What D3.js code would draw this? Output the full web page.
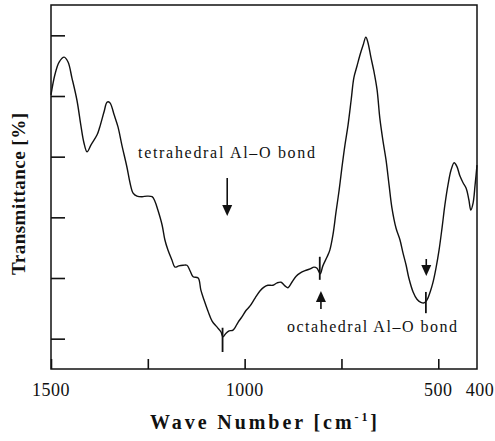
<!DOCTYPE html>
<html>
<head>
<meta charset="utf-8">
<script src="https://d3js.org/d3.v7.min.js"></script>
<style>
  body { margin: 0; background: #fff; }
  text { font-family: "Liberation Serif", "DejaVu Serif", serif; fill: #111; }
</style>
</head>
<body>
<svg id="chart"></svg>
<script>
// spectrum: wave number [cm-1] and transmittance (arbitrary %)
const waveNumber = [1500, 1490, 1479, 1466, 1456, 1446, 1433, 1423, 1415, 1407, 1397, 1381, 1374, 1363, 1355, 1348,
  1337, 1327, 1317, 1304, 1296, 1288, 1278, 1265, 1252, 1239, 1232, 1224, 1213, 1206, 1198, 1188, 1180, 1170,
  1159, 1149, 1141, 1133, 1120, 1113, 1105, 1095, 1084, 1071, 1061, 1056, 1048, 1040, 1030, 1017, 1007, 997,
  986, 973, 960, 950, 940, 927, 916, 906, 896, 888, 878, 867, 857, 844, 831, 821, 813, 805, 798, 787, 780,
  772, 764, 756, 749, 741, 733, 725, 718, 710, 702, 694, 687, 682, 674, 666, 658, 651, 643, 635, 627, 620,
  609, 599, 591, 583, 576, 565, 555, 545, 537, 529, 521, 514, 506, 498, 490, 483, 475, 467, 459, 452, 444,
  436, 428, 421, 416, 410, 405, 400];
const transmittance = [50.2, 53.5, 55.6, 56.4, 55.6, 53.0, 49.3, 45.2, 42.3, 40.8, 41.9, 43.6, 44.9, 47.4, 49.0, 48.9,
  46.9, 44.9, 41.9, 38.3, 35.7, 34.0, 33.5, 33.4, 33.5, 33.4, 32.7, 31.2, 28.7, 26.3, 24.6, 23.0, 21.8, 22.0,
  22.1, 22.1, 21.2, 20.2, 20.0, 18.0, 16.4, 14.6, 12.9, 11.9, 11.1, 10.3, 10.9, 11.3, 11.4, 12.7, 13.6, 14.6,
  15.4, 16.7, 17.9, 18.5, 18.8, 18.8, 19.2, 19.3, 18.7, 18.4, 19.3, 20.3, 20.8, 21.2, 21.5, 21.8, 21.6, 20.7,
  22.0, 23.5, 24.6, 27.1, 30.9, 34.5, 38.1, 41.9, 45.2, 49.3, 53.0, 54.9, 56.8, 58.4, 59.7, 58.9, 56.4, 54.0,
  51.0, 46.4, 42.7, 39.5, 35.3, 31.7, 28.2, 26.3, 24.1, 22.1, 20.0, 17.7, 16.5, 16.0, 15.9, 16.4, 17.7, 19.2,
  21.6, 24.6, 28.4, 32.0, 35.3, 37.8, 39.0, 38.4, 36.8, 35.7, 34.8, 32.9, 31.2, 32.4, 35.3, 38.6];

const xTicks = [1500, 1250, 1000, 750, 500];
const xTickLabels = [1500, 1000, 500, 400];
const yTicks = [10, 20, 30, 40, 50, 60];

// band markers (short vertical bars on the curve)
const markerWave = [1057, 806, 532];
const markerTop = [11.8, 23.5, 17.7];
const markerBottom = [7.8, 19.7, 14.2];

const width = 495, height = 441;
const margin = { top: 5, right: 18, bottom: 72, left: 51 };

const x = d3.scaleLinear().domain([1500, 400]).range([margin.left, width - margin.right]);
const y = d3.scaleLinear().domain([5, 65]).range([height - margin.bottom, margin.top]);

const svg = d3.select("#chart")
  .attr("width", width)
  .attr("height", height)
  .attr("viewBox", [0, 0, width, height]);

const data = waveNumber.map((w, i) => ({ w: w, t: transmittance[i] }));

// axes, ticks pointing inward
svg.append("g")
    .attr("transform", `translate(0,${y(5)})`)
    .call(d3.axisBottom(x).tickValues(xTicks).tickSize(-10).tickFormat(""))
    .call(g => g.select(".domain").remove())
    .selectAll("line").attr("stroke", "#111").attr("stroke-width", 1.6);

svg.append("g")
    .attr("transform", `translate(${x(1500)},0)`)
    .call(d3.axisLeft(y).tickValues(yTicks).tickSize(-14).tickFormat(""))
    .call(g => g.select(".domain").remove())
    .selectAll("line").attr("stroke", "#111").attr("stroke-width", 1.6);

svg.append("rect")
  .attr("x", x(1500)).attr("y", y(65))
  .attr("width", x(400) - x(1500)).attr("height", y(5) - y(65))
  .attr("fill", "none").attr("stroke", "#111").attr("stroke-width", 1.5);

svg.selectAll(".xlab")
  .data(xTickLabels)
  .join("text")
    .attr("class", "xlab")
    .attr("x", d => d === 400 ? x(d) + 3 : x(d))
    .attr("y", 396)
    .attr("text-anchor", "middle")
    .attr("font-size", 18)
    .attr("letter-spacing", 0.5)
    .text(d => d);

// spectrum
svg.append("path")
  .datum(data)
  .attr("fill", "none")
  .attr("stroke", "#111")
  .attr("stroke-width", 1.4)
  .attr("stroke-linejoin", "round")
  .attr("d", d3.line().x(d => x(d.w)).y(d => y(d.t)).curve(d3.curveCatmullRom.alpha(0.5)));

svg.selectAll(".marker")
  .data(markerWave)
  .join("line")
    .attr("class", "marker")
    .attr("x1", d => x(d)).attr("x2", d => x(d))
    .attr("y1", (d, i) => y(markerTop[i]))
    .attr("y2", (d, i) => y(markerBottom[i]))
    .attr("stroke", "#111").attr("stroke-width", 1.8);

// arrows
function arrow(xp, yTail, yHead) {
  const dir = yHead > yTail ? 1 : -1;
  svg.append("line")
    .attr("x1", xp).attr("x2", xp)
    .attr("y1", yTail).attr("y2", yHead - dir * 8)
    .attr("stroke", "#111").attr("stroke-width", 1.6);
  svg.append("path")
    .attr("d", `M${xp - 5},${yHead - dir * 11} L${xp + 5},${yHead - dir * 11} L${xp},${yHead} Z`)
    .attr("fill", "#111");
}
arrow(x(1045), 178, 216);
arrow(x(803), 309, 291);
arrow(x(531), 259, 276);

svg.append("text")
  .attr("x", 138).attr("y", 158)
  .attr("font-size", 16)
  .attr("textLength", 177).attr("lengthAdjust", "spacing")
  .text("tetrahedral Al\u2013O bond");

svg.append("text")
  .attr("x", 287).attr("y", 332)
  .attr("font-size", 16)
  .attr("textLength", 170).attr("lengthAdjust", "spacing")
  .text("octahedral Al\u2013O bond");

// axis titles
const xt = svg.append("text")
  .attr("x", 150).attr("y", 429)
  .attr("font-size", 20)
  .attr("font-weight", "bold")
  .attr("textLength", 227).attr("lengthAdjust", "spacing");
xt.append("tspan").text("Wave Number [cm");
xt.append("tspan").attr("font-size", 12).attr("dy", -8).text("-1");
xt.append("tspan").attr("dy", 8).text("]");

svg.append("text")
  .attr("transform", "translate(25,194) rotate(-90)")
  .attr("text-anchor", "middle")
  .attr("font-size", 19)
  .attr("font-weight", "bold")
  .attr("textLength", 162).attr("lengthAdjust", "spacing")
  .text("Transmittance [%]");
</script>
</body>
</html>
